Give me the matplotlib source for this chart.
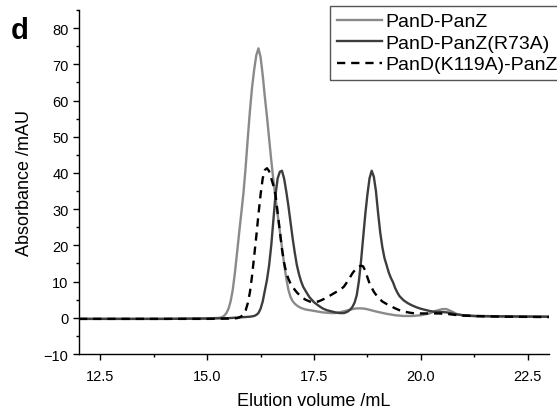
import matplotlib
matplotlib.use("Agg")
import matplotlib.pyplot as plt
from matplotlib.ticker import MultipleLocator, FormatStrFormatter

plt.rcParams['font.family'] = ['Liberation Sans', 'DejaVu Sans']

# PanD-PanZ (light grey)
vol_wt = [12.0, 13.0, 14.0, 15.0, 15.30, 15.35, 15.40, 15.45, 15.50, 15.55, 15.60, 15.65, 15.70, 15.75,
          15.80, 15.85, 15.90, 15.95, 16.00, 16.05, 16.10, 16.15, 16.20, 16.25,
          16.30, 16.35, 16.40, 16.45, 16.50, 16.55, 16.60, 16.65, 16.70, 16.75,
          16.80, 16.85, 16.90, 16.95, 17.00, 17.05, 17.10, 17.15, 17.20,
          17.30, 17.40, 17.50, 17.60, 17.70, 17.80, 17.90, 18.00, 18.10, 18.20, 18.30, 18.40, 18.50,
          18.60, 18.70, 18.80, 18.90, 19.00,
          19.20, 19.40, 19.60, 19.80, 20.00, 20.20,
          20.35, 20.50, 20.60, 20.70, 20.85, 21.00, 21.30, 22.00, 23.00]
abs_wt = [-0.3, -0.3, -0.3, -0.2, 0.0, 0.2, 0.6, 1.3, 2.5, 4.6, 7.8, 12.5, 18.0, 23.6,
          29.0, 34.5, 41.5, 49.5, 57.0, 63.5, 68.5, 72.5, 74.4, 72.0,
          67.0, 61.0, 55.5, 49.5, 43.5, 38.0, 33.0, 28.5, 24.0, 19.5,
          15.0, 11.0, 7.8, 5.8, 4.6, 3.9, 3.4, 3.0, 2.7,
          2.3, 2.1, 1.9, 1.7, 1.5, 1.4, 1.3, 1.3, 1.5, 1.8, 2.1, 2.4, 2.6,
          2.6, 2.5, 2.2, 1.9, 1.6,
          1.1, 0.7, 0.5, 0.5, 0.7, 1.2,
          1.9, 2.4, 2.4, 1.9, 1.0, 0.6, 0.4, 0.3, 0.3]

# PanD-PanZ(R73A) (dark grey)
vol_r73a = [12.0, 13.0, 14.0, 15.0, 15.5, 16.00,
            16.10, 16.15, 16.20, 16.25, 16.30, 16.35, 16.40, 16.45, 16.50, 16.55,
            16.60, 16.65, 16.70, 16.75, 16.80, 16.85, 16.90, 16.95, 17.00, 17.05,
            17.10, 17.15, 17.20, 17.25, 17.30, 17.35, 17.40,
            17.50, 17.60, 17.70, 17.80, 17.90, 18.00, 18.10,
            18.20, 18.25, 18.30, 18.35, 18.40, 18.45, 18.50, 18.55, 18.60, 18.65,
            18.70, 18.75, 18.80, 18.85, 18.90, 18.95, 19.00, 19.05, 19.10, 19.15,
            19.20, 19.25, 19.30, 19.35, 19.40, 19.45, 19.50,
            19.60, 19.70, 19.80, 19.90, 20.00, 20.10, 20.20, 20.30, 20.40, 20.50, 20.60, 20.70, 20.80,
            21.00, 21.30, 22.00, 23.00]
abs_r73a = [-0.3, -0.3, -0.3, -0.2, -0.1, 0.3,
            0.5, 0.8, 1.3, 2.5, 4.5, 7.5, 10.5, 14.5, 20.0, 27.0,
            34.0, 38.5, 40.3, 40.6, 38.5, 35.0, 31.0, 26.5, 22.0, 18.0,
            14.5, 12.0, 10.0, 8.5, 7.5, 6.5, 5.6,
            4.3, 3.4, 2.6, 2.1, 1.8, 1.5, 1.3,
            1.3, 1.5, 1.8, 2.3, 3.0, 4.2, 6.2, 10.0, 15.5, 22.0,
            28.5, 34.0, 38.5, 40.6, 39.0, 35.0, 29.0, 23.6, 19.5, 16.5,
            14.5, 12.5, 11.0, 9.8, 8.2, 7.0, 6.0,
            4.8, 4.0, 3.4, 2.9, 2.5, 2.2, 1.9, 1.7, 1.6, 1.6, 1.5, 1.3, 1.0,
            0.7, 0.5, 0.4, 0.3]

# PanD(K119A)-PanZ (black dashed)
vol_k119a = [12.0, 13.0, 14.0, 15.0, 15.60,
             15.70, 15.75, 15.80, 15.85, 15.90, 15.95, 16.00, 16.05, 16.10, 16.15,
             16.20, 16.25, 16.30, 16.35, 16.40, 16.45, 16.50, 16.55, 16.60, 16.65,
             16.70, 16.75, 16.80, 16.85, 16.90, 16.95, 17.00,
             17.10, 17.20, 17.30, 17.40, 17.50, 17.60, 17.70, 17.80, 17.90, 18.00,
             18.10, 18.20, 18.30, 18.40, 18.50, 18.60,
             18.65, 18.70, 18.75, 18.80,
             18.90, 19.00, 19.10, 19.20, 19.30, 19.40, 19.50, 19.60, 19.70, 19.80,
             20.00, 20.20, 20.40, 20.60, 20.80, 21.00, 21.50, 22.00, 23.00]
abs_k119a = [-0.3, -0.3, -0.3, -0.3, -0.2,
             -0.1, 0.1, 0.4, 0.9, 2.0, 4.0, 7.0, 11.5, 17.0, 22.5,
             28.5, 34.0, 38.5, 40.8, 41.3, 40.5, 38.5, 36.5, 34.0, 29.0,
             24.0, 19.0, 15.2, 12.5, 10.8, 9.5, 8.5,
             7.0, 5.8, 5.0, 4.5, 4.3, 4.5, 5.0, 5.6, 6.3, 7.0,
             7.6, 8.6, 10.3, 12.3, 13.8, 14.4,
             14.2, 13.0, 11.2, 9.5,
             7.2, 5.6, 4.5, 3.8, 3.2, 2.6, 2.1, 1.7, 1.5, 1.3,
             1.2, 1.2, 1.2, 1.1, 0.8, 0.6, 0.4, 0.3, 0.2]

labels = ["PanD-PanZ", "PanD-PanZ(R73A)", "PanD(K119A)-PanZ"]

fig = plt.figure(figsize=(5.57, 4.14), dpi=100)
ax = fig.add_axes([0.1418, 0.1425, 0.8438, 0.831])

ax.plot(vol_wt, abs_wt, color="#8a8a8a", lw=1.7, label=labels[0], zorder=2)
ax.plot(vol_r73a, abs_r73a, color="#3d3d3d", lw=1.7, label=labels[1], zorder=3)
ax.plot(vol_k119a, abs_k119a, color="black", lw=1.7, dashes=(3.5, 2.5), label=labels[2], zorder=4)

ax.set_xlim(12.0, 23.0)
ax.set_ylim(-10, 85)
ax.xaxis.set_major_locator(MultipleLocator(2.5))
ax.xaxis.set_minor_locator(MultipleLocator(1.25))
ax.xaxis.set_major_formatter(FormatStrFormatter("%.1f"))
ax.yaxis.set_major_locator(MultipleLocator(10))
ax.yaxis.set_minor_locator(MultipleLocator(5))

for s in ["top", "right"]:
    ax.spines[s].set_visible(False)
for s in ["left", "bottom"]:
    ax.spines[s].set_linewidth(1.0)

ax.tick_params(which="major", direction="out", length=4.5, width=1.0, labelsize=10.5)
ax.tick_params(which="minor", direction="out", length=2.5, width=1.0)
ax.tick_params(axis="x", which="major", pad=6)
ax.tick_params(axis="y", which="major", pad=3)

ax.set_xlabel("Elution volume /mL", fontsize=13, labelpad=7)
ax.set_ylabel("Absorbance /mAU", fontsize=13, labelpad=8)

leg = ax.legend(loc="upper left", bbox_to_anchor=(330 / 557, 1 - 7 / 414),
                bbox_transform=fig.transFigure, borderaxespad=0, fontsize=14,
                handlelength=2.3, handletextpad=0.2, labelspacing=0.2,
                borderpad=0.35, fancybox=False, framealpha=1)
leg.get_frame().set_edgecolor("#555555")
leg.get_frame().set_linewidth(1.0)

fig.text(11 / 557, 1 - 39 / 414, "d", fontsize=21, fontweight="bold")

fig.savefig("out.png", dpi=100)
